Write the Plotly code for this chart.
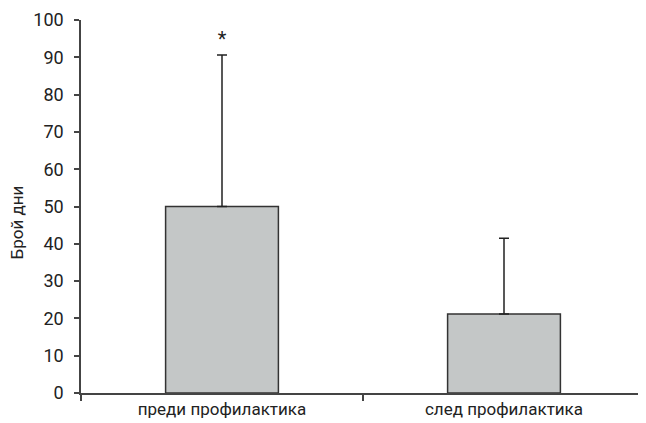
import plotly.graph_objects as go

categories = ["преди профилактика", "след профилактика"]
means = [50.0, 21.2]
errors = [40.6, 20.3]
y_ticks = [0, 10, 20, 30, 40, 50, 60, 70, 80, 90, 100]
y_title = "Брой дни"
star_label = "*"
star_y = 94.3

FONT = "Roboto, sans-serif"

fig = go.Figure()
fig.add_trace(go.Bar(
    x=[0, 1], y=means,
    marker=dict(color="#c4c7c7", line=dict(color="#333333", width=1.5)),
    error_y=dict(type="data", symmetric=False, array=errors, arrayminus=[0, 0],
                 color="#222222", thickness=1.5, width=5),
    width=0.4,
))
fig.add_trace(go.Scatter(
    x=[0], y=[star_y], mode="text", text=[star_label],
    textfont=dict(family=FONT, size=20, color="#222"), textposition="middle center",
))

fig.add_annotation(
    text=y_title, textangle=-90, xref="paper", yref="paper",
    x=-0.113, y=0.458, xanchor="center", yanchor="middle", showarrow=False,
    font=dict(size=17, family=FONT, color="#222"),
)

fig.update_layout(
    width=638, height=415,
    margin=dict(l=73, r=1, t=12, b=30, autoexpand=False),
    paper_bgcolor="white", plot_bgcolor="white",
    showlegend=False,
    font=dict(family=FONT, color="#222"),
    xaxis=dict(
        range=[-0.5, 1.5], tickmode="array", tickvals=[0, 1], ticktext=categories,
        showline=True, linecolor="#444", linewidth=1.5, showgrid=False, zeroline=False,
        ticks="", tickfont=dict(size=17, family=FONT, color="#222"),
        minor=dict(tickmode="array", tickvals=[-0.5, 0.5, 1.5], ticks="outside",
                   ticklen=6, tickcolor="#444", tickwidth=1.5),
        automargin=False, fixedrange=True,
    ),
    yaxis=dict(
        range=[0, 100], tickvals=y_ticks, showline=True, linecolor="#444", linewidth=1.5,
        showgrid=False, zeroline=False, ticks="outside", ticklen=5, tickcolor="#444",
        tickwidth=1.5, tickfont=dict(size=18, family=FONT, color="#222"),
        ticklabelstandoff=7, automargin=False,
    ),
)

fig.write_html("out.html")
